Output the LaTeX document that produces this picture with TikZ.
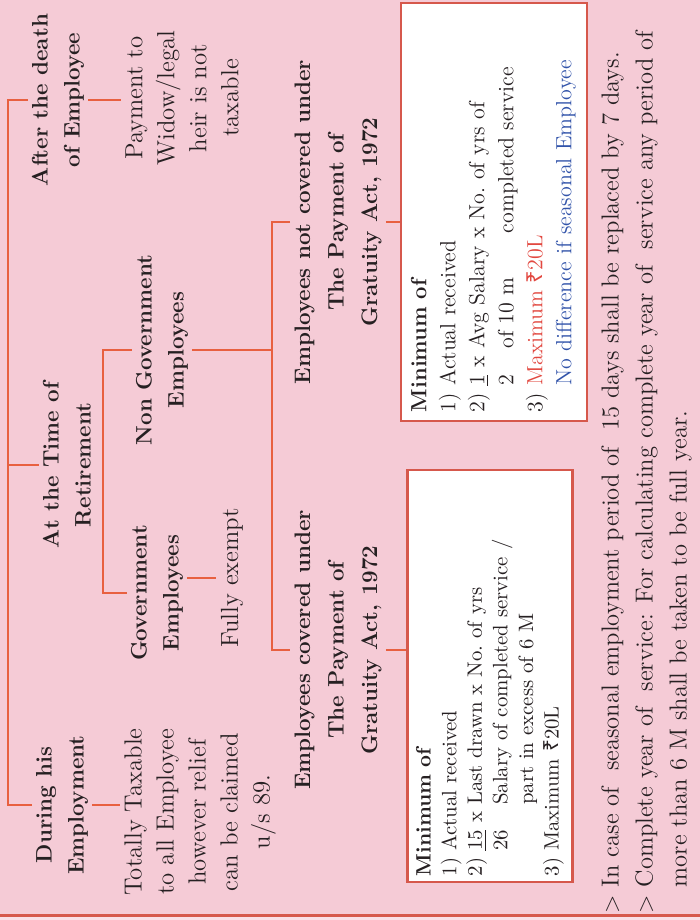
\documentclass[tikz,border=0pt]{standalone}
\usepackage{fontspec}
\newfontfamily\rupeefont{Noto Sans}
\definecolor{pagepink}{RGB}{245,203,214}
\definecolor{linkred}{RGB}{232,96,64}
\definecolor{boxred}{RGB}{214,88,76}
\definecolor{inkgrey}{RGB}{38,32,34}
\definecolor{noteblue}{RGB}{50,84,170}
\definecolor{maxred}{RGB}{226,72,64}
\newcommand{\rupee}{{\rupeefont ₹}}
\begin{document}
\begin{tikzpicture}[x=0.5pt,y=-0.5pt,
            head/.style={rotate=90,align=center,inner sep=2pt,text=inkgrey,font=\fontsize{11.2}{16}\selectfont\bfseries},
            body/.style={rotate=90,align=center,inner sep=2pt,text=inkgrey,font=\fontsize{12.4}{16}\selectfont},
            minbox/.style={rotate=90,draw=boxred,fill=white,line width=1.1pt,align=left,inner xsep=3pt,text=inkgrey},
            link/.style={draw=linkred,line width=0.9pt}]
            \useasboundingbox (0,0) rectangle (700,920);
            \fill[pagepink] (0,0) rectangle (700,920);
            \fill[pagepink!60!white] (0,916) rectangle (700,920);
            \draw[boxred,line width=1.5pt] (0,915) -- (700,915);
            \node[head] (aft) at (58,100) {After the death\\of Employee};
            \node[head] (ret) at (67,465) {At the Time of\\Retirement};
            \node[head] (dur) at (62,805) {During his\\Employment};
            \node[body] (pay) at (182,98) {Payment to\\Widow/legal\\heir is not\\taxable};
            \node[head] (ngov) at (162,350) {Non Government\\Employees};
            \node[head] (gov) at (157,593) {Government\\Employees};
            \node[body] (fex) at (232,578) {Fully exempt};
            \node[body] (tax) at (200,812) {Totally Taxable\\to all Employee\\however relief\\can be claimed\\u/s 89.};
            \node[head,font=\fontsize{11.2}{16.75}\selectfont\bfseries] (ncov) at (338,222) {Employees not covered under\\The Payment of\\Gratuity Act, 1972};
            \node[head,font=\fontsize{11.2}{16.75}\selectfont\bfseries] (cov) at (338,650) {Employees covered under\\The Payment of\\Gratuity Act, 1972};
            \node[minbox,minimum width=206pt,minimum height=82.5pt,text width=200pt,font=\fontsize{10.4}{12.8}\selectfont] (covbox) at (490,676) {\textbf{Minimum of}\\
                1) Actual received\\
                2) \underline{15} x Last drawn x No.\ of yrs\\
                \phantom{2) }26\phantom{ x }Salary of completed service /\\
                \phantom{2) 15 x }part in excess of 6 M\\
                3) Maximum \rupee20L};
            \node[minbox,minimum width=209pt,minimum height=93pt,text width=200pt,font=\fontsize{11}{14.5}\selectfont] (ncovbox) at (494,212) {\textbf{Minimum of}\\
                1) Actual received\\
                2) \underline{1} x Avg Salary x No.\ of yrs of\\
                \phantom{2) }2\phantom{ x }of 10 m\hspace{2em}completed service\\
                3) \textcolor{maxred}{Maximum \rupee20L}\\
                \phantom{3) }\textcolor{noteblue}{No difference if seasonal Employee}};
            \node[rotate=90,anchor=north west,inner sep=0pt,align=left,text=inkgrey,font=\fontsize{12.3}{17}\selectfont] (notes) at (601,914) {$>$ In case of\ \ seasonal employment period of\ \ 15 days shall be replaced by 7 days.\\
                $>$ Complete year of\ \ service: For calculating complete year of\ \ service any period of\\
                \phantom{$>$ }more than 6 M shall be taken to be full year.};
            \coordinate (sp) at (8,0);
            \coordinate (gb) at (103,0);
            \coordinate (cb) at (272,0);
            \draw[link] (aft.north) -- (sp |- aft.north) -- (sp |- dur.north) -- (dur.north);
            \draw[link] (ret.north) -- (sp |- ret.north);
            \draw[link] (aft.south) -- (aft.south -| pay.north);
            \draw[link] (dur.south) -- (dur.south -| tax.north);
            \draw[link] (ngov.north) -- (gb |- ngov.north) -- (gb |- gov.north) -- (gov.north);
            \draw[link] (fex.north -| gov.south) -- (fex.north);
            \draw[link] (ngov.south) -- (cb |- ngov.south);
            \draw[link] (ncov.north) -- (cb |- ncov.north) -- (cb |- cov.north) -- (cov.north);
            \draw[link] (cov.south) -- (cov.south -| covbox.north);
            \draw[link] (ncov.south) -- (ncov.south -| ncovbox.north);
        \end{tikzpicture}
\end{document}
